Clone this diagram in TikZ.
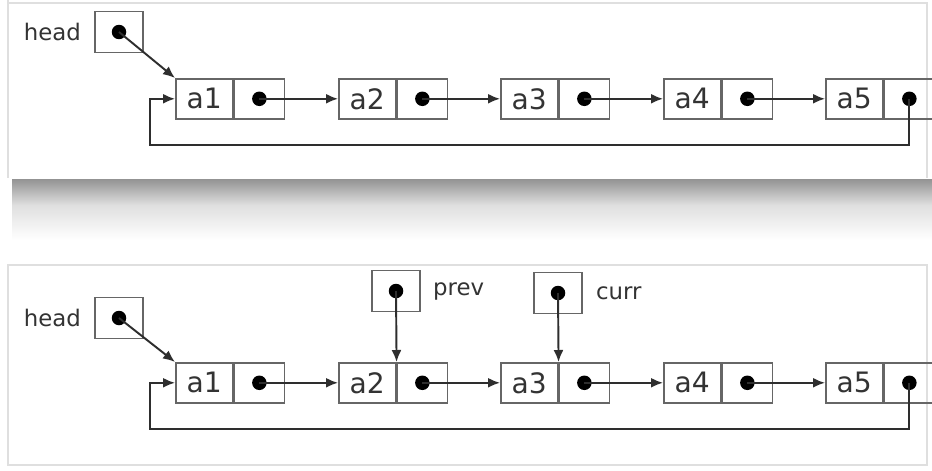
\documentclass[tikz,border=0pt]{standalone}
\usepackage{fontspec}
\setmainfont{DejaVu Sans}
\usetikzlibrary{arrows.meta,positioning}
\definecolor{linecol}{HTML}{2E2E2E}
\definecolor{boxcol}{HTML}{666666}
\definecolor{textcol}{HTML}{333333}

\begin{document}
\begin{tikzpicture}[x=0.02cm, y=-0.02cm,
    cell/.style={draw=boxcol, line width=0.9pt, minimum height=0.8cm, inner sep=0pt,
        text=textcol, font=\fontsize{16}{16}\selectfont},
    ptrbox/.style={draw=boxcol, line width=0.9pt, minimum width=0.96cm, minimum height=0.82cm, inner sep=0pt},
    lbl/.style={text=textcol, font=\fontsize{13}{13}\selectfont, inner sep=0pt},
    link/.style={draw=linecol, line width=1.1pt, -{Latex[length=2.4mm,width=2mm]}},
    panel/.style={draw=gray!25, line width=0.8pt}]
        \useasboundingbox (0,0) rectangle (932,470);
        \fill[white] (0,0) rectangle (932,470);

        % Panels and the shadow between them
        \draw[panel] (8,3) -- (927,3) -- (927,178);
        \draw[panel] (8,0) -- (8,178);
        \shade[top color=gray!85, bottom color=gray!25] (12,179) rectangle (932,205);
        \shade[top color=gray!25, bottom color=white] (12,205) rectangle (932,240);
        \draw[panel] (8,265) -- (927,265) -- (927,465) -- (8,465) -- cycle;

        % Draw list nodes of both rows
        \foreach \r/\y in {t/78, b/362} {
            \foreach \i/\x in {1/175, 2/338, 3/500, 4/663, 5/825} {
                \node[cell, minimum width=1.14cm, anchor=north west] (\r\i) at (\x,\y) {a\i};
                \node[cell, minimum width=1cm, anchor=west] (\r\i p) at (\r\i.east) {};
                \fill[black] (\r\i p.center) circle (0.145cm);
            }
            % Next pointers
            \foreach \i/\j in {1/2, 2/3, 3/4, 4/5} {
                \draw[link] (\r\i p.center) -- (\r\j.west);
            }
            % Last node back to the first
            \draw[link] (\r5p.center) -- ++(0,46) -| ([xshift=-0.5cm]\r1.west) -- (\r1.west);
        }

        % Head pointers
        \node[ptrbox] (th) at (119,32) {};
        \node[ptrbox] (bh) at (119,318) {};
        \node[lbl, left=0.26cm of th] {head};
        \node[lbl, left=0.26cm of bh] {head};
        \foreach \h/\r in {th/t, bh/b} {
            \fill[black] (\h.center) circle (0.145cm);
            \draw[link] (\h.center) -- (\r1.north west);
        }

        % prev and curr
        \node[ptrbox] (prevptr) at (396,291) {};
        \node[ptrbox] (currptr) at (558,293) {};
        \node[lbl, right=0.24cm of prevptr] {prev};
        \node[lbl, right=0.26cm of currptr] {curr};
        \fill[black] (prevptr.center) circle (0.145cm);
        \fill[black] (currptr.center) circle (0.145cm);
        \draw[link] (prevptr.center) -- (b2p.north west);
        \draw[link] (currptr.center) -- (b3p.north west);
    \end{tikzpicture}
\end{document}
